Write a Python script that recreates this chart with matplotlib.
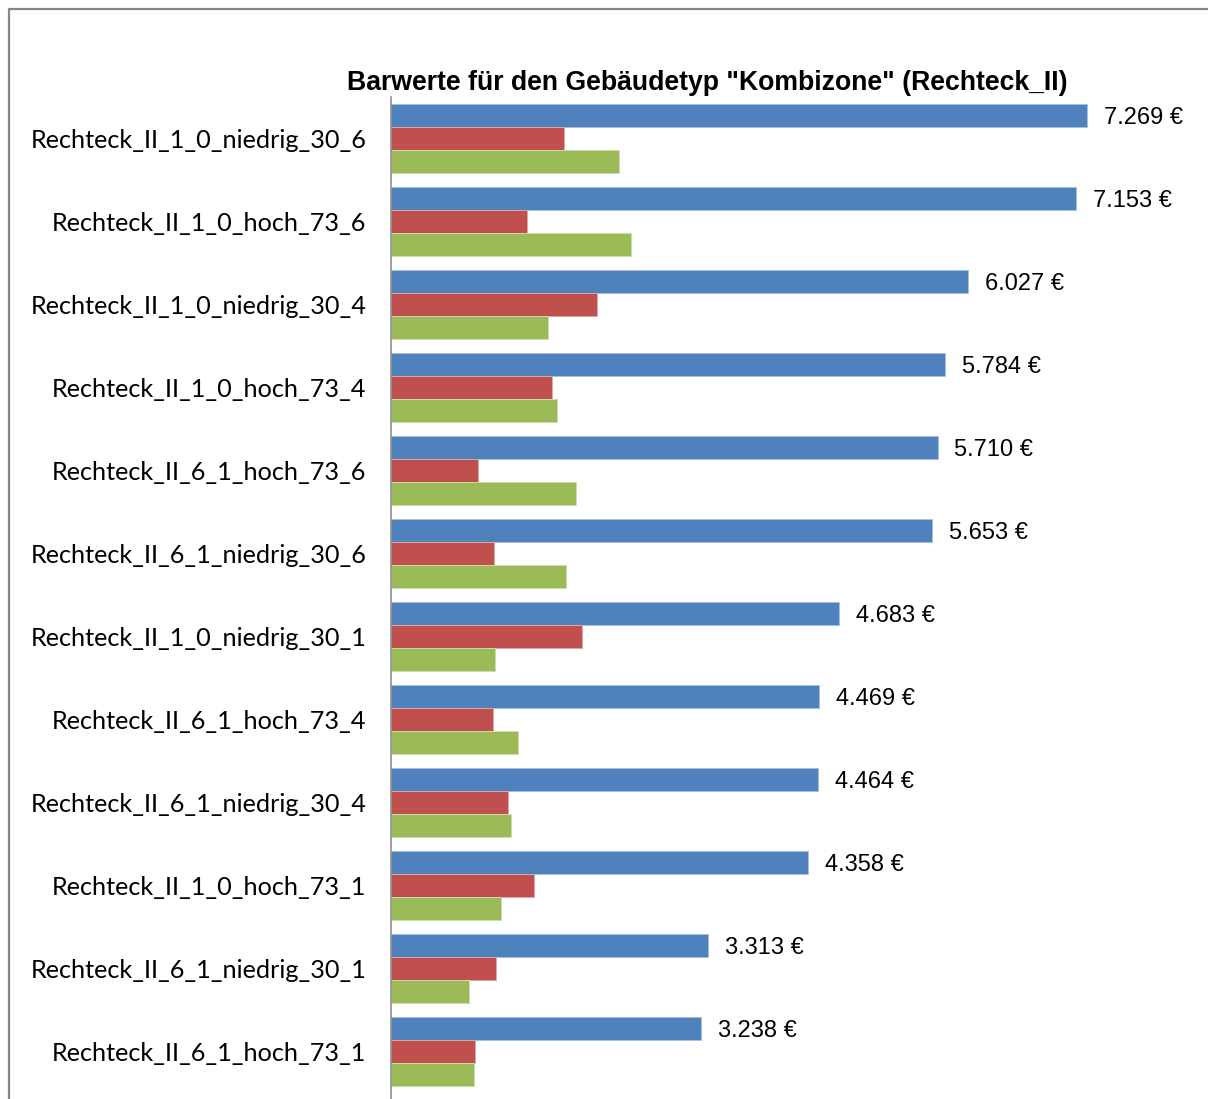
import numpy as np
import matplotlib
matplotlib.use('Agg')
import matplotlib.pyplot as plt
from matplotlib.lines import Line2D

# Barwerte je Variante (oben -> unten)
varianten = ['Rechteck_II_1_0_niedrig_30_6', 'Rechteck_II_1_0_hoch_73_6',
             'Rechteck_II_1_0_niedrig_30_4', 'Rechteck_II_1_0_hoch_73_4',
             'Rechteck_II_6_1_hoch_73_6', 'Rechteck_II_6_1_niedrig_30_6',
             'Rechteck_II_1_0_niedrig_30_1', 'Rechteck_II_6_1_hoch_73_4',
             'Rechteck_II_6_1_niedrig_30_4', 'Rechteck_II_1_0_hoch_73_1',
             'Rechteck_II_6_1_niedrig_30_1', 'Rechteck_II_6_1_hoch_73_1']
barwert_gesamt = [7269, 7153, 6027, 5784, 5710, 5653, 4683, 4469, 4464, 4358, 3313, 3238]
barwert_rot    = [1808, 1422, 2153, 1690, 918, 1075, 2003, 1067, 1231, 1495, 1099, 880]
barwert_gruen  = [2379, 2511, 1645, 1739, 1937, 1833, 1092, 1328, 1255, 1158, 817, 873]

W, H = 1208, 1099
fig = plt.figure(figsize=(W/100, H/100), dpi=100)

# Diagrammrahmen (rechts und unten abgeschnitten)
fig.add_artist(Line2D([9/W, 9/W, 1.0], [0.0, 1-9/H, 1-9/H],
                      transform=fig.transFigure, color='#878787', lw=1.6))

ax = fig.add_axes([390.5/W, 0.0, 766.8/W, (H-97)/H])

y = np.arange(len(varianten))
h = 0.278
ax.barh(y - h, barwert_gesamt, height=h, color='#4F81BD', edgecolor='#a7c0de', lw=0.7)
ax.barh(y,     barwert_rot,    height=h, color='#C0504D', edgecolor='#dfa8a6', lw=0.7)
ax.barh(y + h, barwert_gruen,  height=h, color='#9BBB59', edgecolor='#cddcac', lw=0.7)

for yi, v in zip(y, barwert_gesamt):
    ax.annotate(f'{v/1000:.3f} \u20ac', xy=(v, yi - h), xytext=(12, -1.5),
                textcoords='offset points', va='center', ha='left',
                fontsize=17, family='Liberation Sans', annotation_clip=False)

ax.set_xlim(0, 8000)
ax.set_ylim(11.57, -0.5)
ax.set_yticks(y)
ax.set_yticklabels(varianten, family='Lato', fontsize=18.2)
ax.tick_params(axis='y', length=0, pad=17.5)
ax.set_xticks([])
for s in ['top', 'right', 'bottom']:
    ax.spines[s].set_visible(False)
ax.spines['left'].set_color('#868686')
ax.spines['left'].set_linewidth(1.1)

fig.text(707.5/W, 1-83/H, 'Barwerte für den Gebäudetyp "Kombizone" (Rechteck_II)',
         ha='center', va='center', fontsize=19.2, fontweight='bold', family='Liberation Sans')

fig.savefig('out.png', dpi=100)
